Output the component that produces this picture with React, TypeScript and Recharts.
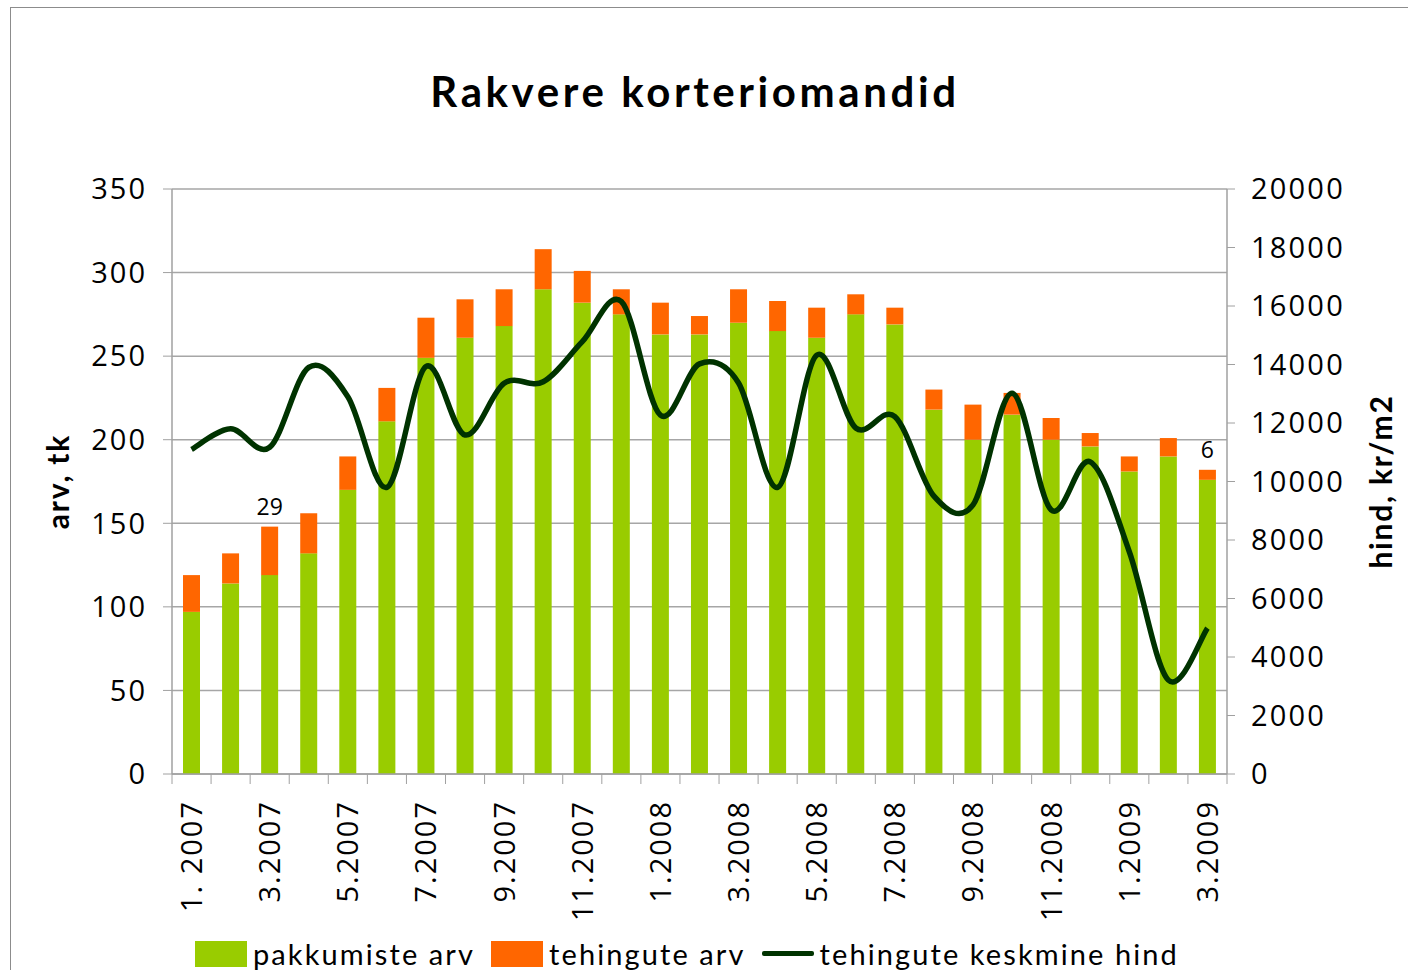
import React from 'react';
import { ComposedChart, Bar, Line, XAxis, YAxis, CartesianGrid, LabelList } from 'recharts';

const months = [
  '1. 2007', '2.2007', '3.2007', '4.2007', '5.2007', '6.2007', '7.2007', '8.2007', '9.2007',
  '10.2007', '11.2007', '12.2007', '1.2008', '2.2008', '3.2008', '4.2008', '5.2008', '6.2008',
  '7.2008', '8.2008', '9.2008', '10.2008', '11.2008', '12.2008', '1.2009', '2.2009', '3.2009',
];
const offers = [97, 114, 119, 132, 170, 211, 249, 261, 268, 290, 282, 275, 263, 263, 270, 265, 261, 275, 269, 218, 200, 215, 200, 196, 181, 190, 176];
const deals = [22, 18, 29, 24, 20, 20, 24, 23, 22, 24, 19, 15, 19, 11, 20, 18, 18, 12, 10, 12, 21, 13, 13, 8, 9, 11, 6];
const avgPrice = [11100, 11800, 11170, 13900, 12900, 9800, 13930, 11590, 13360, 13410, 14780, 16150, 12270, 14020, 13370, 9800, 14320, 11830, 12220, 9500, 9200, 13020, 9030, 10670, 7600, 3210, 4990];
const dealLabels = ['', '', '29', '', '', '', '', '', '', '', '', '', '', '', '', '', '', '', '', '', '', '', '', '', '', '', '6'];
const leftTicks = [0, 50, 100, 150, 200, 250, 300, 350];
const rightTicks = [0, 2000, 4000, 6000, 8000, 10000, 12000, 14000, 16000, 18000, 20000];

const data = months.map((m, i) => ({
  month: m,
  pakkumiste: offers[i],
  tehingute: deals[i],
  hind: avgPrice[i],
  lbl: dealLabels[i],
}));

// Excel-like smoothed line (Catmull-Rom through the points)
const smoothCurve = (context: any) => {
  let pts: number[][] = [];
  return {
    areaStart() {},
    areaEnd() {},
    lineStart() { pts = []; },
    point(x: number, y: number) { pts.push([+x, +y]); },
    lineEnd() {
      if (!pts.length) return;
      context.moveTo(pts[0][0], pts[0][1]);
      for (let i = 0; i < pts.length - 1; i++) {
        const p0 = pts[i - 1] || pts[i];
        const p1 = pts[i];
        const p2 = pts[i + 1];
        const p3 = pts[i + 2] || p2;
        context.bezierCurveTo(
          p1[0] + (p2[0] - p0[0]) / 6, p1[1] + (p2[1] - p0[1]) / 6,
          p2[0] - (p3[0] - p1[0]) / 6, p2[1] - (p3[1] - p1[1]) / 6,
          p2[0], p2[1],
        );
      }
    },
  };
};

const font = '"Open Sans", sans-serif';
const band = (1227 - 172) / months.length;

const MonthTick = (props: any) => {
  const { x, y, payload, index } = props;
  const left = x - band / 2;
  return (
    <g>
      <line x1={left} y1={y - 8} x2={left} y2={y + 2} stroke="#a0a0a0" />
      {index === months.length - 1 && (
        <line x1={x + band / 2} y1={y - 8} x2={x + band / 2} y2={y + 2} stroke="#a0a0a0" />
      )}
      {index % 2 === 0 && (
        <text
          x={x}
          y={y + 18}
          transform={`rotate(-90 ${x} ${y + 18})`}
          textAnchor="end"
          dy="0.36em"
          fontSize={29}
          letterSpacing={2}
          fontFamily={font}
          fill="#000"
        >
          {payload.value}
        </text>
      )}
    </g>
  );
};

export default function App() {
  return (
    <div style={{ position: 'absolute', left: 0, top: 0, width: 1408, height: 970, overflow: 'hidden', background: '#fff' }}>
      <div style={{ position: 'absolute', left: 10, top: 7, width: 1500, height: 1100, border: '1px solid #8c8c8c' }} />
      <div
        style={{
          position: 'absolute', left: 0, width: 1390, top: 66, textAlign: 'center',
          fontFamily: 'Lato, sans-serif', fontWeight: 'bold', fontSize: 42, letterSpacing: 3.6, color: '#000',
        }}
      >
        Rakvere korteriomandid
      </div>
      <div style={{ position: 'absolute', left: 0, top: 0 }}>
        <ComposedChart
          width={1408}
          height={970}
          data={data}
          margin={{ top: 189, right: 20, bottom: 20, left: 20 }}
        >
          <CartesianGrid yAxisId="left" vertical={false} stroke="#a6a6a6" strokeWidth={1.5} />
          <XAxis
            dataKey="month"
            interval={0}
            height={176}
            tickLine={false}
            axisLine={{ stroke: '#a0a0a0', strokeWidth: 1.5 }}
            tick={<MonthTick />}
          />
          <YAxis
            yAxisId="left"
            width={152}
            domain={[0, 350]}
            ticks={leftTicks}
            interval={0}
            tickSize={9}
            tickMargin={16}
            axisLine={{ stroke: '#a0a0a0', strokeWidth: 1.5 }}
            tickLine={{ stroke: '#a0a0a0' }}
            tick={{ fontSize: 29, fontFamily: font, fill: '#000', letterSpacing: 2 }}
            label={{
              content: (p: any) => {
                const cx = 58;
                const cy = p.viewBox.y + p.viewBox.height / 2;
                return (
                  <text x={cx} y={cy} transform={`rotate(-90 ${cx} ${cy})`} textAnchor="middle" dy="0.36em"
                    fontSize={30} fontWeight="bold" fontFamily="Lato, sans-serif" letterSpacing={1.8} fill="#000">
                    arv, tk
                  </text>
                );
              },
            }}
          />
          <YAxis
            yAxisId="right"
            orientation="right"
            width={161}
            domain={[0, 20000]}
            ticks={rightTicks}
            interval={0}
            tickSize={8}
            tickMargin={16}
            axisLine={{ stroke: '#a0a0a0', strokeWidth: 1.5 }}
            tickLine={{ stroke: '#a0a0a0' }}
            tick={{ fontSize: 29, fontFamily: font, fill: '#000', letterSpacing: 2.2, textAnchor: 'start' }}
            label={{
              content: (p: any) => {
                const cx = 1381;
                const cy = p.viewBox.y + p.viewBox.height / 2;
                return (
                  <text x={cx} y={cy} transform={`rotate(-90 ${cx} ${cy})`} textAnchor="middle" dy="0.36em"
                    fontSize={30} fontWeight="bold" fontFamily="Lato, sans-serif" letterSpacing={1.8} fill="#000">
                    hind, kr/m2
                  </text>
                );
              },
            }}
          />
          <Bar yAxisId="left" dataKey="pakkumiste" stackId="a" fill="#99cc00" barSize={17} isAnimationActive={false} />
          <Bar yAxisId="left" dataKey="tehingute" stackId="a" fill="#ff6600" barSize={17} isAnimationActive={false}>
            <LabelList dataKey="lbl" position="top" offset={12} fontSize={23} fontFamily={font} fill="#000" />
          </Bar>
          <Line
            yAxisId="right"
            dataKey="hind"
            type={smoothCurve as any}
            stroke="#003300"
            strokeWidth={5.5}
            dot={false}
            activeDot={false}
            isAnimationActive={false}
          />
        </ComposedChart>
      </div>
      <div
        style={{
          position: 'absolute', left: 195, top: 936, display: 'flex', alignItems: 'center',
          fontFamily: 'Lato, sans-serif', fontSize: 29, letterSpacing: 2.1, color: '#000', whiteSpace: 'nowrap',
        }}
      >
        <span style={{ width: 52, height: 26, background: '#99cc00', display: 'inline-block', marginRight: 6 }} />
        <span style={{ marginRight: 16 }}>pakkumiste arv</span>
        <span style={{ width: 52, height: 26, background: '#ff6600', display: 'inline-block', marginRight: 6 }} />
        <span style={{ marginRight: 16 }}>tehingute arv</span>
        <span style={{ width: 52, height: 5, background: '#003300', display: 'inline-block', marginRight: 6, borderRadius: 2 }} />
        <span>tehingute keskmine hind</span>
      </div>
    </div>
  );
}
